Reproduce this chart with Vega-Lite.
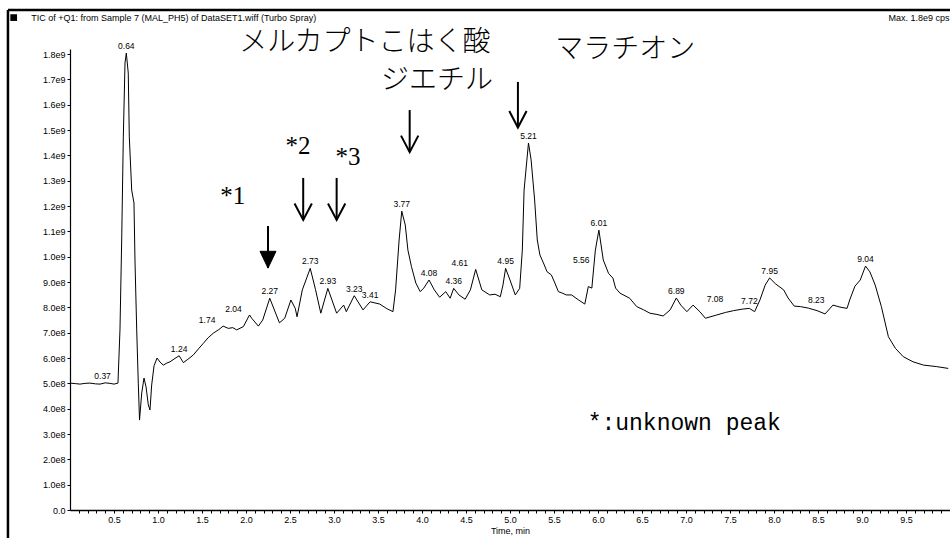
{
  "$schema": "https://vega.github.io/schema/vega-lite/v6.json",
  "autosize": "none",
  "width": 880,
  "height": 461,
  "padding": {"left": 70, "top": 49, "right": 0, "bottom": 28},
  "background": "white",
  "config": {"view": {"stroke": null}, "font": "Liberation Sans", "axis": {"labelOverlap": false, "labelBound": false, "labelFlush": false}},
  "datasets": {
    "trace": [
      {"t": 0.0, "v": 5.01e8}, {"t": 0.06, "v": 4.99e8}, {"t": 0.114, "v": 4.97e8}, {"t": 0.17, "v": 5.0e8},
      {"t": 0.227, "v": 5.01e8}, {"t": 0.29, "v": 4.98e8}, {"t": 0.341, "v": 4.97e8}, {"t": 0.40, "v": 5.02e8},
      {"t": 0.455, "v": 5.0e8}, {"t": 0.50, "v": 4.97e8}, {"t": 0.545, "v": 5.01e8},
      {"t": 0.568, "v": 7.11e8}, {"t": 0.588, "v": 10.78e8}, {"t": 0.606, "v": 14.73e8}, {"t": 0.625, "v": 17.65e8},
      {"t": 0.640, "v": 18.04e8}, {"t": 0.662, "v": 17.25e8}, {"t": 0.674, "v": 14.73e8}, {"t": 0.701, "v": 12.63e8},
      {"t": 0.727, "v": 12.12e8}, {"t": 0.739, "v": 9.75e8}, {"t": 0.758, "v": 7.11e8}, {"t": 0.776, "v": 5.01e8},
      {"t": 0.790, "v": 3.55e8}, {"t": 0.815, "v": 4.62e8}, {"t": 0.841, "v": 5.21e8}, {"t": 0.864, "v": 4.86e8},
      {"t": 0.890, "v": 4.15e8}, {"t": 0.909, "v": 3.95e8}, {"t": 0.928, "v": 4.93e8}, {"t": 0.955, "v": 5.69e8},
      {"t": 0.989, "v": 6.0e8}, {"t": 1.023, "v": 5.84e8}, {"t": 1.060, "v": 5.72e8}, {"t": 1.10, "v": 5.8e8},
      {"t": 1.136, "v": 5.85e8}, {"t": 1.182, "v": 5.96e8}, {"t": 1.24, "v": 6.09e8}, {"t": 1.288, "v": 5.82e8},
      {"t": 1.34, "v": 5.95e8}, {"t": 1.401, "v": 6.12e8}, {"t": 1.46, "v": 6.36e8}, {"t": 1.515, "v": 6.58e8},
      {"t": 1.57, "v": 6.8e8}, {"t": 1.628, "v": 6.98e8}, {"t": 1.69, "v": 7.12e8}, {"t": 1.74, "v": 7.26e8},
      {"t": 1.799, "v": 7.17e8}, {"t": 1.85, "v": 7.2e8}, {"t": 1.894, "v": 7.11e8}, {"t": 1.97, "v": 7.24e8},
      {"t": 2.04, "v": 7.70e8}, {"t": 2.065, "v": 7.57e8}, {"t": 2.14, "v": 7.26e8}, {"t": 2.19, "v": 7.50e8},
      {"t": 2.27, "v": 8.36e8}, {"t": 2.38, "v": 7.39e8}, {"t": 2.44, "v": 7.57e8}, {"t": 2.51, "v": 8.29e8},
      {"t": 2.56, "v": 7.96e8}, {"t": 2.58, "v": 7.63e8}, {"t": 2.64, "v": 8.69e8}, {"t": 2.73, "v": 9.54e8},
      {"t": 2.79, "v": 8.7e8}, {"t": 2.85, "v": 7.77e8}, {"t": 2.93, "v": 8.75e8}, {"t": 3.03, "v": 7.77e8},
      {"t": 3.11, "v": 8.09e8}, {"t": 3.14, "v": 7.83e8}, {"t": 3.23, "v": 8.46e8}, {"t": 3.33, "v": 7.90e8},
      {"t": 3.41, "v": 8.22e8}, {"t": 3.52, "v": 8.13e8}, {"t": 3.60, "v": 7.95e8}, {"t": 3.67, "v": 7.83e8},
      {"t": 3.70, "v": 8.69e8}, {"t": 3.74, "v": 10.66e8}, {"t": 3.77, "v": 11.80e8}, {"t": 3.81, "v": 11.25e8},
      {"t": 3.84, "v": 10.26e8}, {"t": 3.88, "v": 9.61e8}, {"t": 3.93, "v": 8.96e8}, {"t": 3.98, "v": 8.62e8},
      {"t": 4.02, "v": 8.76e8}, {"t": 4.08, "v": 9.08e8}, {"t": 4.14, "v": 8.69e8}, {"t": 4.20, "v": 8.40e8},
      {"t": 4.27, "v": 8.62e8}, {"t": 4.32, "v": 8.36e8}, {"t": 4.36, "v": 8.75e8}, {"t": 4.42, "v": 8.49e8},
      {"t": 4.49, "v": 8.32e8}, {"t": 4.55, "v": 8.69e8}, {"t": 4.61, "v": 9.50e8}, {"t": 4.68, "v": 8.69e8},
      {"t": 4.77, "v": 8.49e8}, {"t": 4.83, "v": 8.52e8}, {"t": 4.89, "v": 8.42e8}, {"t": 4.92, "v": 8.88e8},
      {"t": 4.95, "v": 9.54e8}, {"t": 5.0, "v": 9.08e8}, {"t": 5.06, "v": 8.49e8}, {"t": 5.11, "v": 8.75e8},
      {"t": 5.14, "v": 10.26e8}, {"t": 5.16, "v": 12.63e8}, {"t": 5.21, "v": 14.49e8}, {"t": 5.24, "v": 13.82e8},
      {"t": 5.28, "v": 12.24e8}, {"t": 5.31, "v": 10.66e8}, {"t": 5.34, "v": 10.07e8}, {"t": 5.39, "v": 9.67e8},
      {"t": 5.42, "v": 9.41e8}, {"t": 5.47, "v": 9.28e8}, {"t": 5.51, "v": 8.96e8}, {"t": 5.55, "v": 8.62e8},
      {"t": 5.59, "v": 8.57e8}, {"t": 5.64, "v": 8.49e8}, {"t": 5.70, "v": 8.49e8}, {"t": 5.78, "v": 8.29e8},
      {"t": 5.85, "v": 8.13e8}, {"t": 5.89, "v": 8.82e8}, {"t": 5.93, "v": 8.76e8}, {"t": 5.97, "v": 10.26e8},
      {"t": 6.01, "v": 11.05e8}, {"t": 6.06, "v": 9.87e8}, {"t": 6.12, "v": 9.34e8}, {"t": 6.17, "v": 9.15e8},
      {"t": 6.20, "v": 8.76e8}, {"t": 6.25, "v": 8.56e8}, {"t": 6.36, "v": 8.36e8}, {"t": 6.44, "v": 8.03e8},
      {"t": 6.52, "v": 7.9e8}, {"t": 6.59, "v": 7.77e8}, {"t": 6.67, "v": 7.72e8}, {"t": 6.74, "v": 7.66e8},
      {"t": 6.82, "v": 7.90e8}, {"t": 6.89, "v": 8.37e8}, {"t": 6.94, "v": 8.09e8}, {"t": 7.01, "v": 7.83e8},
      {"t": 7.08, "v": 8.09e8}, {"t": 7.16, "v": 7.82e8}, {"t": 7.22, "v": 7.57e8}, {"t": 7.35, "v": 7.70e8},
      {"t": 7.45, "v": 7.8e8}, {"t": 7.54, "v": 7.87e8}, {"t": 7.64, "v": 7.93e8}, {"t": 7.72, "v": 7.96e8},
      {"t": 7.78, "v": 7.83e8}, {"t": 7.84, "v": 8.29e8}, {"t": 7.90, "v": 8.88e8}, {"t": 7.95, "v": 9.16e8},
      {"t": 8.02, "v": 8.92e8}, {"t": 8.11, "v": 8.69e8}, {"t": 8.16, "v": 8.37e8}, {"t": 8.23, "v": 8.05e8},
      {"t": 8.30, "v": 8.03e8}, {"t": 8.39, "v": 7.97e8}, {"t": 8.49, "v": 7.87e8}, {"t": 8.58, "v": 7.74e8},
      {"t": 8.67, "v": 8.09e8}, {"t": 8.75, "v": 8.01e8}, {"t": 8.83, "v": 7.96e8}, {"t": 8.86, "v": 8.29e8},
      {"t": 8.92, "v": 8.84e8}, {"t": 8.98, "v": 9.08e8}, {"t": 9.04, "v": 9.63e8}, {"t": 9.09, "v": 9.40e8},
      {"t": 9.15, "v": 8.88e8}, {"t": 9.22, "v": 8.03e8}, {"t": 9.30, "v": 6.84e8}, {"t": 9.38, "v": 6.38e8},
      {"t": 9.47, "v": 6.05e8}, {"t": 9.58, "v": 5.85e8}, {"t": 9.70, "v": 5.72e8}, {"t": 9.85, "v": 5.66e8},
      {"t": 9.98, "v": 5.59e8}
    ],
    "peaks": [
      {"t": 0.37, "v": 5.01e8}, {"t": 0.64, "v": 18.04e8}, {"t": 1.24, "v": 6.09e8}, {"t": 1.74, "v": 7.26e8},
      {"t": 2.04, "v": 7.70e8}, {"t": 2.27, "v": 8.36e8}, {"t": 2.73, "v": 9.54e8}, {"t": 2.93, "v": 8.75e8},
      {"t": 3.23, "v": 8.46e8}, {"t": 3.41, "v": 8.22e8}, {"t": 3.77, "v": 11.80e8}, {"t": 4.08, "v": 9.08e8},
      {"t": 4.36, "v": 8.75e8}, {"t": 4.61, "v": 9.50e8}, {"t": 4.95, "v": 9.54e8}, {"t": 5.21, "v": 14.49e8},
      {"t": 5.56, "v": 8.62e8}, {"t": 6.01, "v": 11.05e8}, {"t": 6.89, "v": 8.37e8}, {"t": 7.08, "v": 8.09e8},
      {"t": 7.72, "v": 7.96e8}, {"t": 7.95, "v": 9.16e8}, {"t": 8.23, "v": 8.05e8}, {"t": 9.04, "v": 9.63e8}
    ],
    "arrows": [
      {"t": 3.86, "top": 15.79e8, "bottom": 14.13e8, "kind": "open"},
      {"t": 5.09, "top": 16.90e8, "bottom": 15.10e8, "kind": "open"},
      {"t": 2.65, "top": 13.11e8, "bottom": 11.45e8, "kind": "open"},
      {"t": 3.03, "top": 13.11e8, "bottom": 11.45e8, "kind": "open"},
      {"t": 2.25, "top": 11.21e8, "bottom": 9.55e8, "kind": "filled"}
    ],
    "jp": [
      {"t": 3.35, "v": 18.44e8, "text": "メルカプトこはく酸"},
      {"t": 4.17, "v": 16.95e8, "text": "ジエチル"},
      {"t": 6.31, "v": 18.16e8, "text": "マラチオン"}
    ],
    "stars": [
      {"t": 1.85, "v": 12.40e8, "text": "*1"},
      {"t": 2.59, "v": 14.37e8, "text": "*2"},
      {"t": 3.16, "v": 13.94e8, "text": "*3"}
    ]
  },
  "layer": [
    {
      "data": {"name": "trace"},
      "mark": {"type": "line", "color": "black", "strokeWidth": 1, "interpolate": "linear"},
      "encoding": {
        "x": {
          "field": "t", "type": "quantitative",
          "scale": {"domain": [0, 10], "nice": false, "zero": false},
          "axis": {
            "title": "Time, min", "titleFont": "Liberation Sans", "titleFontSize": 9, "titleFontWeight": "normal",
            "titleColor": "black", "titlePadding": 2, "tickCount": 1000,
            "values": [0.1,0.2,0.3,0.4,0.5,0.6,0.7,0.8,0.9,1.0,1.1,1.2,1.3,1.4,1.5,1.6,1.7,1.8,1.9,2.0,2.1,2.2,2.3,2.4,2.5,2.6,2.7,2.8,2.9,3.0,3.1,3.2,3.3,3.4,3.5,3.6,3.7,3.8,3.9,4.0,4.1,4.2,4.3,4.4,4.5,4.6,4.7,4.8,4.9,5.0,5.1,5.2,5.3,5.4,5.5,5.6,5.7,5.8,5.9,6.0,6.1,6.2,6.3,6.4,6.5,6.6,6.7,6.8,6.9,7.0,7.1,7.2,7.3,7.4,7.5,7.6,7.7,7.8,7.9,8.0,8.1,8.2,8.3,8.4,8.5,8.6,8.7,8.8,8.9,9.0,9.1,9.2,9.3,9.4,9.5,9.6,9.7,9.8,9.9],
            "labelExpr": "abs(datum.value * 2 - round(datum.value * 2)) < 0.001 ? format(datum.value, '.1f') : ''",
            "labelFont": "Liberation Sans", "labelFontSize": 9, "labelColor": "black", "labelPadding": 2,
            "labelOverlap": false, "labelBound": false, "labelFlush": false,
            "tickSize": 3, "tickColor": "black", "domainColor": "black", "domainWidth": 1.4, "grid": false
          }
        },
        "y": {
          "field": "v", "type": "quantitative",
          "scale": {"domain": [0, 1820000000], "nice": false},
          "axis": {
            "title": null, "tickCount": 1000,
            "values": [0,1e8,2e8,3e8,4e8,5e8,6e8,7e8,8e8,9e8,1e9,1.1e9,1.2e9,1.3e9,1.4e9,1.5e9,1.6e9,1.7e9,1.8e9],
            "labelExpr": "datum.value >= 1e9 ? format(datum.value / 1e9, '.1f') + 'e9' : (datum.value > 0 ? format(datum.value / 1e8, '.1f') + 'e8' : '0.0')",
            "labelFont": "Liberation Sans", "labelFontSize": 9, "labelColor": "black", "labelPadding": 2,
            "labelOverlap": false, "labelBound": false, "labelFlush": false,
            "tickSize": 3, "tickColor": "black", "domainColor": "black", "domainWidth": 1.2, "grid": false
          }
        }
      }
    },
    {
      "data": {"name": "peaks"},
      "transform": [{"filter": {"not": {"field": "t", "oneOf": [1.74, 2.04, 4.61, 5.56, 7.08, 8.23]}}}],
      "mark": {"type": "text", "font": "Liberation Sans", "fontSize": 8.5, "baseline": "bottom", "dy": -2, "color": "black"},
      "encoding": {
        "x": {"field": "t", "type": "quantitative"},
        "y": {"field": "v", "type": "quantitative"},
        "text": {"field": "t", "type": "quantitative", "format": ".2f"}
      }
    },
    {
      "data": {"name": "peaks"},
      "transform": [{"filter": {"field": "t", "oneOf": [1.74, 2.04, 4.61]}}],
      "mark": {"type": "text", "font": "Liberation Sans", "fontSize": 8.5, "baseline": "bottom", "dy": -1, "dx": -16, "color": "black"},
      "encoding": {
        "x": {"field": "t", "type": "quantitative"},
        "y": {"field": "v", "type": "quantitative"},
        "text": {"field": "t", "type": "quantitative", "format": ".2f"}
      }
    },
    {
      "data": {"name": "peaks"},
      "transform": [{"filter": {"field": "t", "oneOf": [7.08, 8.23]}}],
      "mark": {"type": "text", "font": "Liberation Sans", "fontSize": 8.5, "baseline": "bottom", "dy": -1, "dx": 22, "color": "black"},
      "encoding": {
        "x": {"field": "t", "type": "quantitative"},
        "y": {"field": "v", "type": "quantitative"},
        "text": {"field": "t", "type": "quantitative", "format": ".2f"}
      }
    },
    {
      "data": {"name": "peaks"},
      "transform": [{"filter": {"field": "t", "oneOf": [5.56]}}],
      "mark": {"type": "text", "font": "Liberation Sans", "fontSize": 8.5, "baseline": "bottom", "dy": -27, "dx": 22, "color": "black"},
      "encoding": {
        "x": {"field": "t", "type": "quantitative"},
        "y": {"field": "v", "type": "quantitative"},
        "text": {"field": "t", "type": "quantitative", "format": ".2f"}
      }
    },
    {
      "data": {"name": "jp"},
      "mark": {"type": "text", "font": "Noto Sans CJK JP", "fontSize": 28, "fontWeight": 300, "baseline": "middle", "align": "center", "color": "black"},
      "encoding": {
        "x": {"field": "t", "type": "quantitative"},
        "y": {"field": "v", "type": "quantitative"},
        "text": {"field": "text"}
      }
    },
    {
      "data": {"name": "stars"},
      "mark": {"type": "text", "font": "Liberation Serif", "fontSize": 25, "baseline": "middle", "align": "center", "color": "black"},
      "encoding": {
        "x": {"field": "t", "type": "quantitative"},
        "y": {"field": "v", "type": "quantitative"},
        "text": {"field": "text"}
      }
    },
    {
      "data": {"values": [{"label": "*:unknown peak"}]},
      "mark": {"type": "text", "font": "Liberation Mono", "fontSize": 23, "baseline": "middle", "align": "center", "color": "black"},
      "encoding": {
        "x": {"datum": 6.98, "type": "quantitative"},
        "y": {"datum": 343000000, "type": "quantitative"},
        "text": {"field": "label"}
      }
    },
    {
      "data": {"name": "arrows"},
      "mark": {"type": "rule", "color": "black", "strokeWidth": 2},
      "encoding": {
        "x": {"field": "t", "type": "quantitative"},
        "y": {"field": "top", "type": "quantitative"},
        "y2": {"field": "bottom"}
      }
    },
    {
      "data": {"name": "arrows"},
      "transform": [{"filter": "datum.kind == 'open'"}],
      "mark": {"type": "point", "shape": "M-1,-1.9L0,0L1,-1.9", "size": 300, "filled": false, "stroke": "black", "strokeWidth": 2, "opacity": 1},
      "encoding": {
        "x": {"field": "t", "type": "quantitative"},
        "y": {"field": "bottom", "type": "quantitative"}
      }
    },
    {
      "data": {"name": "arrows"},
      "transform": [{"filter": "datum.kind == 'filled'"}],
      "mark": {"type": "point", "shape": "M-1,-2.1L0,0L1,-2.1Z", "size": 256, "filled": true, "fill": "black", "stroke": "black", "strokeWidth": 1, "opacity": 1},
      "encoding": {
        "x": {"field": "t", "type": "quantitative"},
        "y": {"field": "bottom", "type": "quantitative"}
      }
    },
    {
      "data": {"values": [{"part": "top"}]},
      "mark": {"type": "rule", "color": "black", "strokeWidth": 2.5},
      "encoding": {
        "x": {"datum": -0.705, "type": "quantitative"},
        "x2": {"datum": 10.2},
        "y": {"datum": 1974000000, "type": "quantitative"}
      }
    },
    {
      "data": {"values": [{"part": "left"}]},
      "mark": {"type": "rule", "color": "black", "strokeWidth": 2.5},
      "encoding": {
        "x": {"datum": -0.705, "type": "quantitative"},
        "y": {"datum": 1974000000, "type": "quantitative"},
        "y2": {"datum": -120000000}
      }
    },
    {
      "data": {"values": [{"part": "icon"}]},
      "mark": {"type": "point", "shape": "square", "size": 45, "filled": true, "color": "black", "opacity": 1},
      "encoding": {
        "x": {"datum": -0.64, "type": "quantitative"},
        "y": {"datum": 1944000000, "type": "quantitative"}
      }
    },
    {
      "data": {"values": [{"label": "TIC of +Q1: from Sample 7 (MAL_PH5) of DataSET1.wiff (Turbo Spray)"}]},
      "mark": {"type": "text", "font": "Liberation Sans", "fontSize": 9, "align": "left", "baseline": "middle", "color": "black"},
      "encoding": {
        "x": {"datum": -0.44, "type": "quantitative"},
        "y": {"datum": 1944000000, "type": "quantitative"},
        "text": {"field": "label"}
      }
    },
    {
      "data": {"values": [{"label": "Max. 1.8e9 cps"}]},
      "mark": {"type": "text", "font": "Liberation Sans", "fontSize": 9, "align": "left", "baseline": "middle", "color": "black"},
      "encoding": {
        "x": {"datum": 9.3, "type": "quantitative"},
        "y": {"datum": 1944000000, "type": "quantitative"},
        "text": {"field": "label"}
      }
    }
  ]
}
